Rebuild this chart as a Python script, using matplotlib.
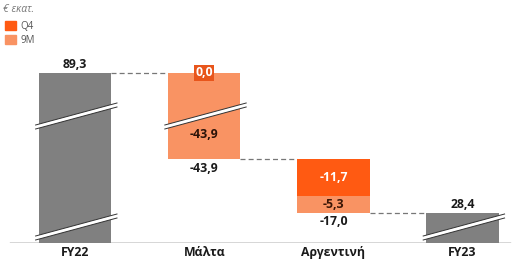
import numpy as np
import matplotlib.pyplot as plt
from matplotlib.patches import Patch, Polygon
from matplotlib.transforms import blended_transform_factory

plt.rcParams['font.family'] = ['Open Sans', 'DejaVu Sans']

# ── Data ───────────────────────────────────────────────────────────────────────
categories = ["FY22", "Μάλτα", "Αργεντινή", "FY23"]
start_value = 89.3
end_value = 28.4
q4_change = [0.0, -11.7]      # Μάλτα, Αργεντινή
m9_change = [-43.9, -5.3]
total_change = [-43.9, -17.0]

# ── Cosmetics ──────────────────────────────────────────────────────────────────
GREY = "#808080"
Q4_COL = "#FF5A12"
M9_COL = "#F99363"
TXT = "#1a1a1a"
W = 0.56
FS = 8.8

# broken-axis style scale (values -> compressed pixel heights)
knots_val = [-100, 0, 28.4, 45.4, 89.3, 140]
knots_pix = [-100, 0, 30, 84, 170, 250]
fwd = lambda v: np.interp(v, knots_val, knots_pix)
inv = lambda p: np.interp(p, knots_pix, knots_val)

fig = plt.figure(figsize=(5.16, 2.61), dpi=100)
ax = fig.add_axes([0, 18 / 261, 1, 243 / 261])
ax.set_yscale('function', functions=(fwd, inv))
ax.set_ylim(0, inv(243))
ax.set_xlim(-75 / 129.2, (516 - 75) / 129.2)
for s in ax.spines.values():
    s.set_visible(False)
ax.set_yticks([])
ax.set_xticks(range(len(categories)))
ax.set_xticklabels(categories, fontweight='bold', fontsize=FS, color=TXT)
ax.tick_params(axis='x', length=0, pad=2.5)
ax.axhline(0, xmin=10 / 516, xmax=510 / 516, color="#333333", lw=1)

x = np.arange(len(categories))
# totals
ax.bar([x[0], x[3]], [start_value, end_value], width=W, color=GREY, zorder=2)

# changes
level = start_value
levels = [start_value]
for i, (q4, m9) in enumerate(zip(q4_change, m9_change)):
    xi = x[i + 1]
    ax.bar(xi, -q4, bottom=level + q4, width=W, color=Q4_COL, zorder=2)
    ax.bar(xi, -m9, bottom=level + q4 + m9, width=W, color=M9_COL, zorder=2)
    level = level + q4 + m9
    levels.append(level)

# dashed connectors
for i, lv in enumerate(levels):
    ax.plot([x[i] + W / 2, x[i + 1] - W / 2], [lv, lv], ls=(0, (4, 2.5)),
            color="#777777", lw=0.9, zorder=1)

fmt = lambda v: f"{v:.1f}".replace(".", ",")

def lab(xv, yv, s, dy, va, color=TXT, **kw):
    ax.annotate(s, (xv, yv), xytext=(0, dy), textcoords='offset points',
                ha='center', va=va, fontsize=FS, fontweight='bold',
                color=color, annotation_clip=False, zorder=5, **kw)

lab(x[0], start_value, fmt(start_value), 1.5, 'bottom')
lab(x[3], end_value, fmt(end_value), 1.5, 'bottom')

# Μάλτα
lab(x[1], levels[0], fmt(q4_change[0]), 0, 'center', color='white',
    bbox=dict(boxstyle='square,pad=0.12', fc="#E8551B", ec='none'))
lab(x[1], levels[1], fmt(m9_change[0]), 18, 'center', color="#2a1208")
lab(x[1], levels[1], fmt(total_change[0]), -2.5, 'top')

# Αργεντινή
top = levels[1]
lab(x[2], top + q4_change[1] / 2, fmt(q4_change[1]), 0, 'center', color='white')
lab(x[2], top + q4_change[1] + m9_change[1] / 2, fmt(m9_change[1]), 0, 'center',
    color="#3a1505")
lab(x[2], levels[2], fmt(total_change[1]), -1.5, 'top')

# break marks (pixels above baseline)
tr = blended_transform_factory(ax.transData, ax.transAxes)
def brk(xc, ypix):
    x0, x1 = xc - W / 2 - 0.025, xc + W / 2 + 0.045
    y0, y1 = (ypix - 11) / 243, (ypix + 11) / 243
    g = 4 / 243
    ax.add_patch(Polygon([[x0, y0], [x1, y1], [x1, y1 + g], [x0, y0 + g]],
                         closed=True, fc='white', ec='none', transform=tr,
                         zorder=3, clip_on=False))
    for dy in (0, g):
        ax.plot([x0, x1], [y0 + dy, y1 + dy], color="#333333", lw=0.7,
                transform=tr, zorder=4, clip_on=False)

brk(x[0], 125)
brk(x[0], 14)
brk(x[1], 125)
brk(x[3], 14)

# unit + legend
fig.text(3 / 516, 1 - 10 / 261, "€ εκατ.", fontsize=7.5, style='italic',
         color="#777777", va='center', ha='left')
fig.legend(handles=[Patch(color=Q4_COL, label="Q4"), Patch(color=M9_COL, label="9M")],
           loc='upper left', bbox_to_anchor=(-2 / 516, 1 - 14 / 261),
           frameon=False, fontsize=7, handlelength=1.1, handleheight=1.1,
           handletextpad=0.55, labelspacing=0.3, borderpad=0.2,
           labelcolor="#555555")

fig.savefig("out.png", dpi=100)
